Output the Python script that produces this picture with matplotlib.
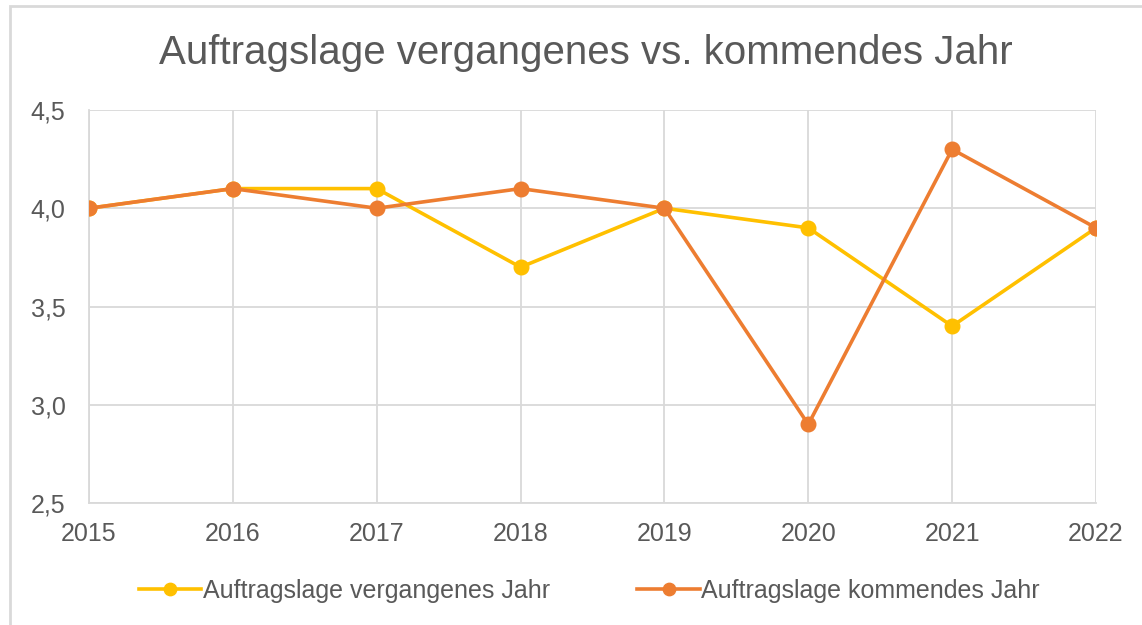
import matplotlib.pyplot as plt
from matplotlib.patches import Rectangle

# Auftragslage: vergangenes vs. kommendes Jahr
years = [2015, 2016, 2017, 2018, 2019, 2020, 2021, 2022]
vergangen = [4.0, 4.1, 4.1, 3.7, 4.0, 3.9, 3.4, 3.9]
kommend = [4.0, 4.1, 4.0, 4.1, 4.0, 2.9, 4.3, 3.9]
yticks = [2.5, 3.0, 3.5, 4.0, 4.5]
ytick_labels = ["2,5", "3,0", "3,5", "4,0", "4,5"]

plt.rcParams["font.family"] = ["Liberation Sans", "DejaVu Sans"]
text_col = "#595959"
grid_col = "#D9D9D9"

fig = plt.figure(figsize=(11.42, 6.25), dpi=100)
fig.patches.append(Rectangle((10 / 1142, -0.1), 1.2, 1 - 6 / 625 + 0.1,
                             transform=fig.transFigure, fill=False,
                             edgecolor=grid_col, linewidth=2))
ax = fig.add_axes([89 / 1142, 1 - 503 / 625, (1096 - 89) / 1142, (503 - 110) / 625])

ax.plot(years, vergangen, color="#FFC000", lw=2.6, marker="o", ms=10.5,
        label="Auftragslage vergangenes Jahr", zorder=3)
ax.plot(years, kommend, color="#ED7D31", lw=2.6, marker="o", ms=10.5,
        label="Auftragslage kommendes Jahr", zorder=4)

ax.set_xlim(years[0], years[-1])
ax.set_ylim(2.5, 4.5)
ax.set_xticks(years)
ax.set_yticks(yticks)
ax.set_yticklabels(ytick_labels)
ax.grid(True, color=grid_col, lw=1.3)
ax.set_axisbelow(True)
for side in ["top", "right"]:
    ax.spines[side].set_visible(False)
for side in ["left", "bottom"]:
    ax.spines[side].set_color(grid_col)
    ax.spines[side].set_linewidth(1.3)
ax.tick_params(length=0, labelsize=18, colors=text_col)
ax.tick_params(axis="x", pad=14)
ax.tick_params(axis="y", pad=17)

fig.text(0.513, 0.916, "Auftragslage vergangenes vs. kommendes Jahr",
         ha="center", va="center", fontsize=29, color=text_col)

fig.legend(loc="center", bbox_to_anchor=(0.516, 0.055), ncol=2, frameon=False,
           fontsize=18, labelcolor=text_col, handlelength=2.5, handletextpad=0.05,
           columnspacing=3.5, markerscale=0.85)

fig.savefig("out.png", dpi=100)
